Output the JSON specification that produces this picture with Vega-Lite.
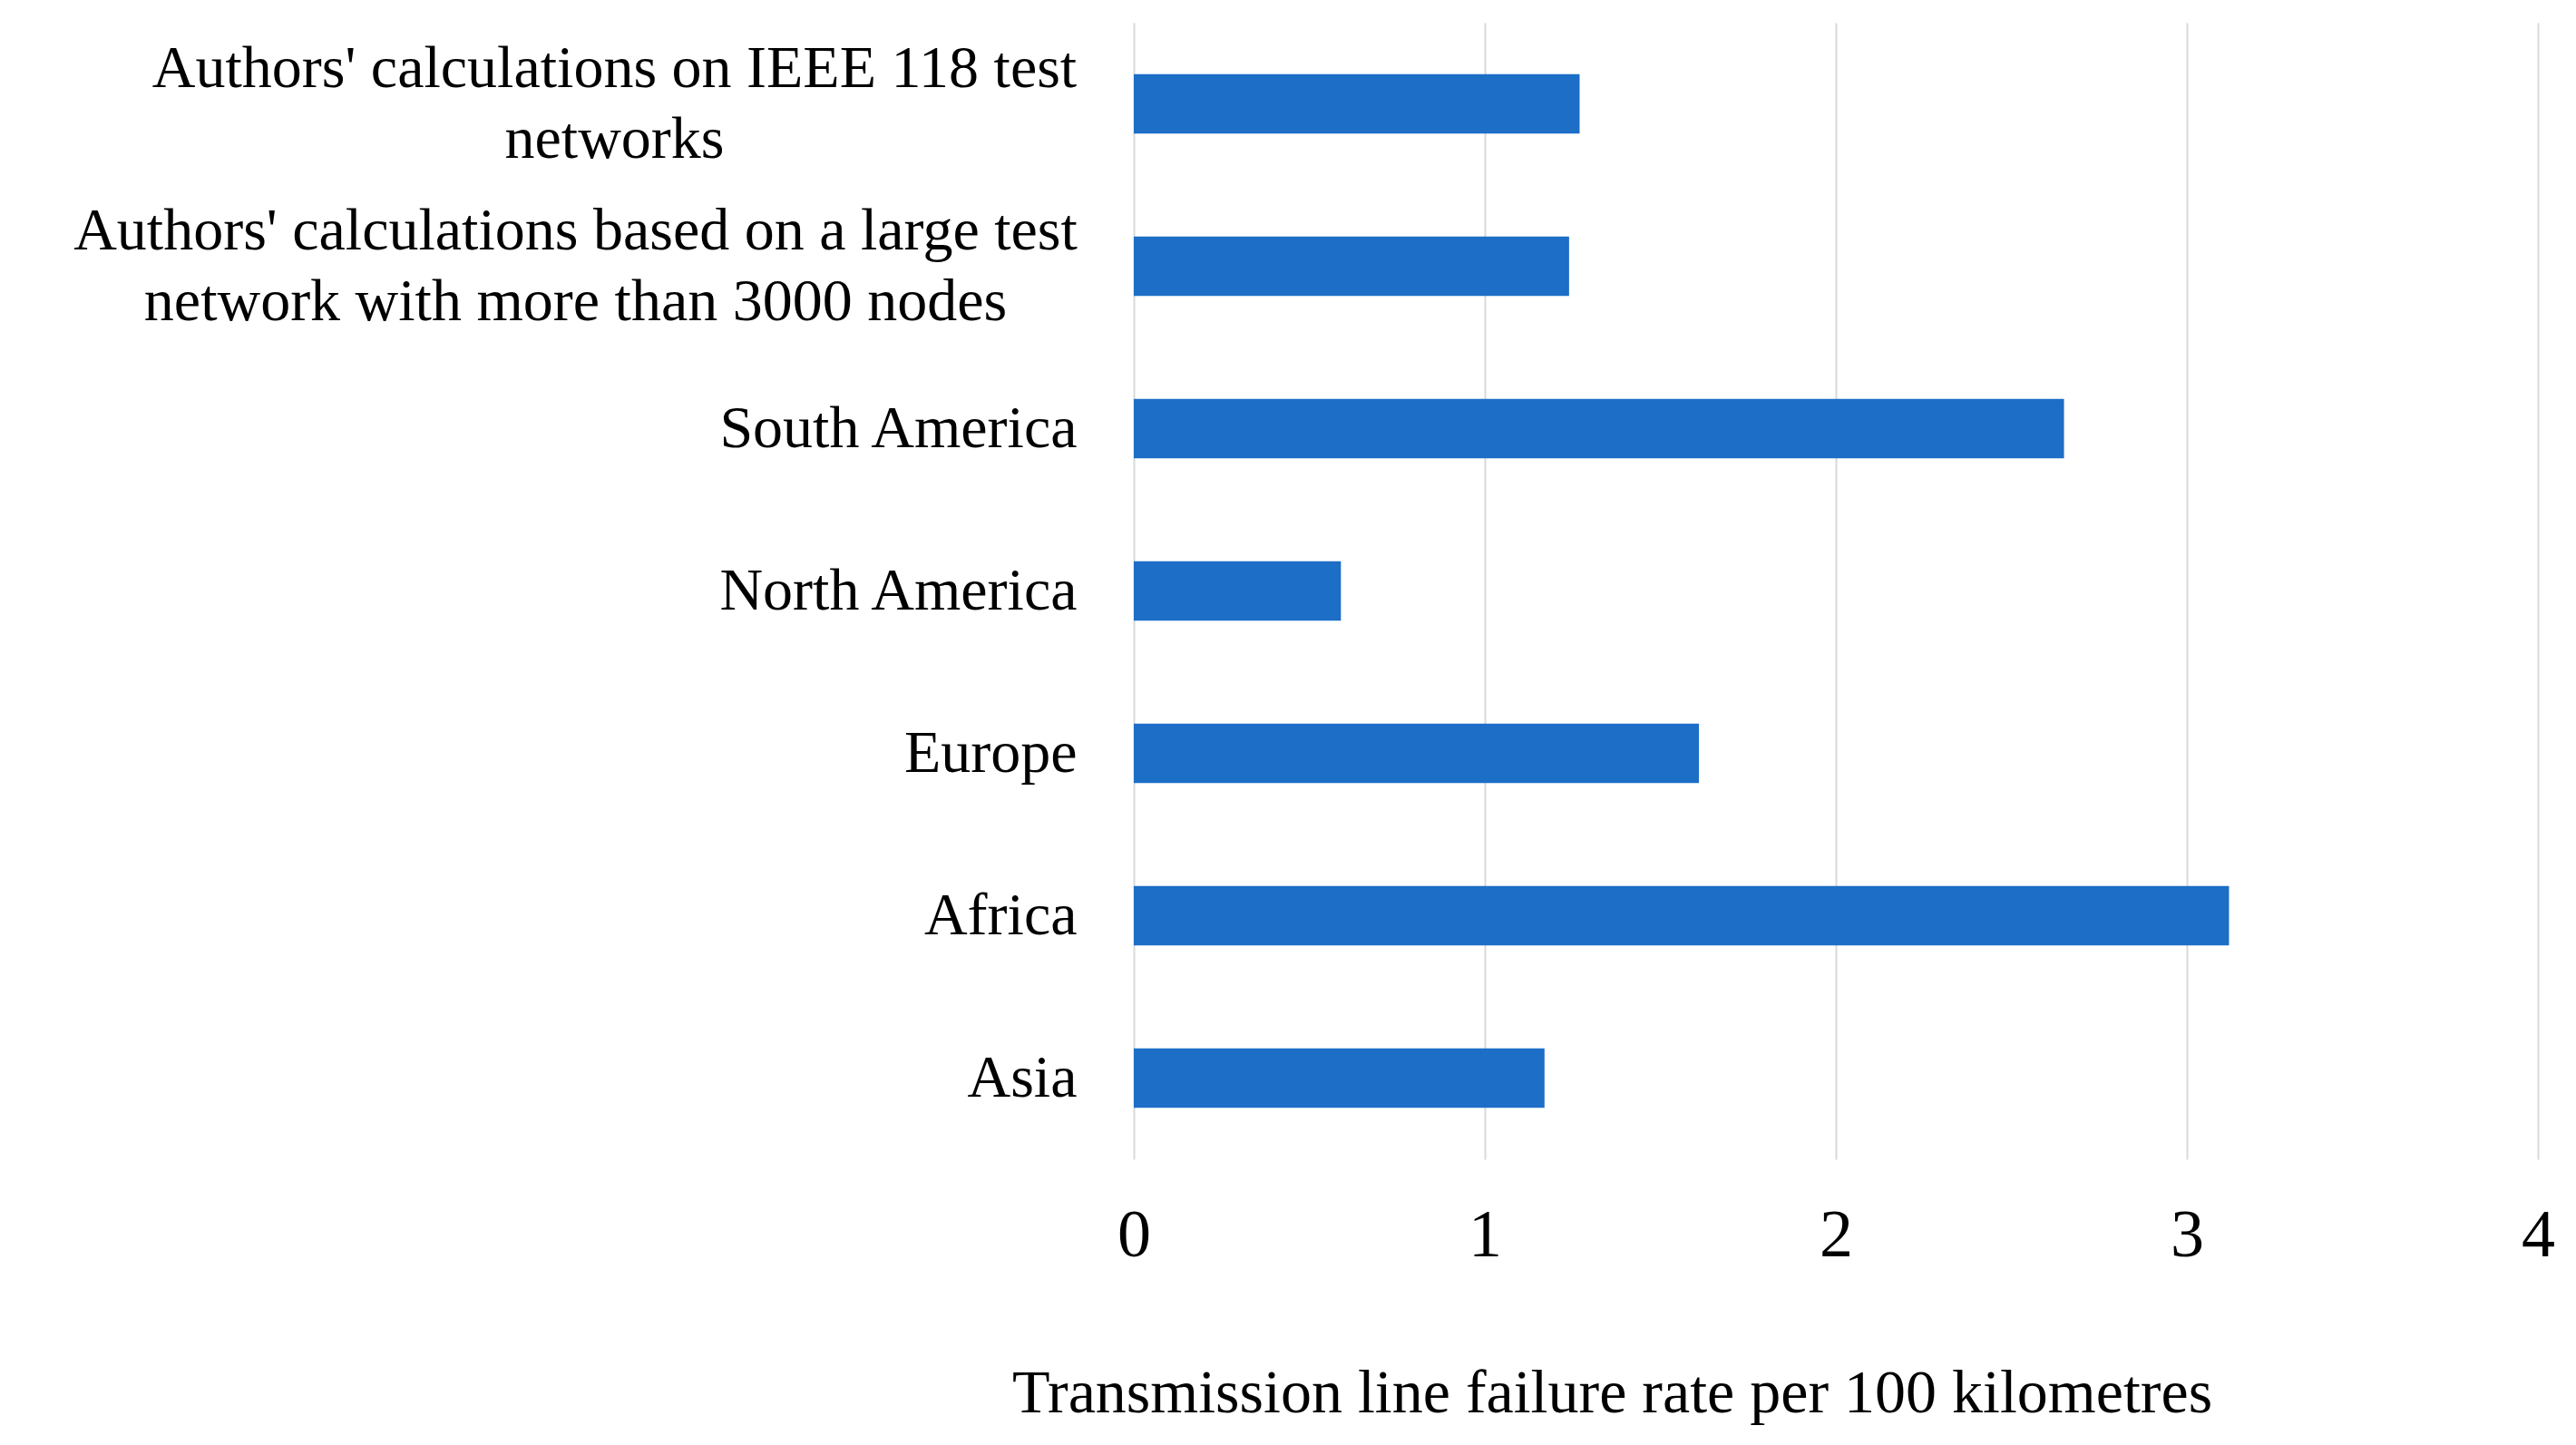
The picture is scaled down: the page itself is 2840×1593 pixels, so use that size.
{
  "$schema": "https://vega.github.io/schema/vega-lite/v6.json",
  "autosize": "none",
  "width": 1548,
  "height": 1253,
  "padding": {"left": 1250, "top": 25, "right": 42, "bottom": 315},
  "background": "white",
  "data": {
    "values": [
      {"category": "Authors' calculations on IEEE 118 test|networks", "rate": 1.27},
      {"category": "Authors' calculations based on a large test|network with more than 3000 nodes", "rate": 1.24},
      {"category": "South America", "rate": 2.65},
      {"category": "North America", "rate": 0.59},
      {"category": "Europe", "rate": 1.61},
      {"category": "Africa", "rate": 3.12},
      {"category": "Asia", "rate": 1.17}
    ]
  },
  "mark": {"type": "bar", "color": "#1c6ec6"},
  "encoding": {
    "y": {
      "field": "category",
      "type": "nominal",
      "sort": null,
      "scale": {"paddingInner": 0.634, "paddingOuter": 0.317},
      "axis": {
        "title": null,
        "domain": false,
        "ticks": false,
        "labelExpr": "split(datum.label, '|')",
        "labelFont": "Liberation Serif",
        "labelFontSize": 66,
        "labelColor": "#000000",
        "labelLineHeight": 78,
        "labelPadding": {
          "condition": [
            {"test": "indexof(datum.value, 'IEEE') >= 0", "value": 573},
            {"test": "indexof(datum.value, '3000') >= 0", "value": 616}
          ],
          "value": 63
        },
        "labelOffset": {
          "condition": {"test": "indexof(datum.value, '|') >= 0", "value": -39},
          "value": 0
        },
        "labelAlign": {
          "condition": {"test": "indexof(datum.value, '|') >= 0", "value": "center"},
          "value": "right"
        },
        "labelLimit": 1300
      }
    },
    "x": {
      "field": "rate",
      "type": "quantitative",
      "scale": {"domain": [0, 4], "nice": false},
      "axis": {
        "values": [0, 1, 2, 3, 4],
        "title": "Transmission line failure rate per 100 kilometres",
        "titleFont": "Liberation Serif",
        "titleFontSize": 68,
        "titleFontWeight": "normal",
        "titleColor": "#000000",
        "titleX": 527,
        "titleY": 258,
        "titleBaseline": "middle",
        "titleAlign": "center",
        "domain": false,
        "ticks": false,
        "grid": true,
        "gridColor": "#d9d9d9",
        "gridWidth": 2,
        "labelFont": "Liberation Serif",
        "labelFontSize": 74,
        "labelColor": "#000000",
        "labelPadding": 48,
        "labelFlush": false
      }
    }
  },
  "config": {"view": {"stroke": null}}
}
